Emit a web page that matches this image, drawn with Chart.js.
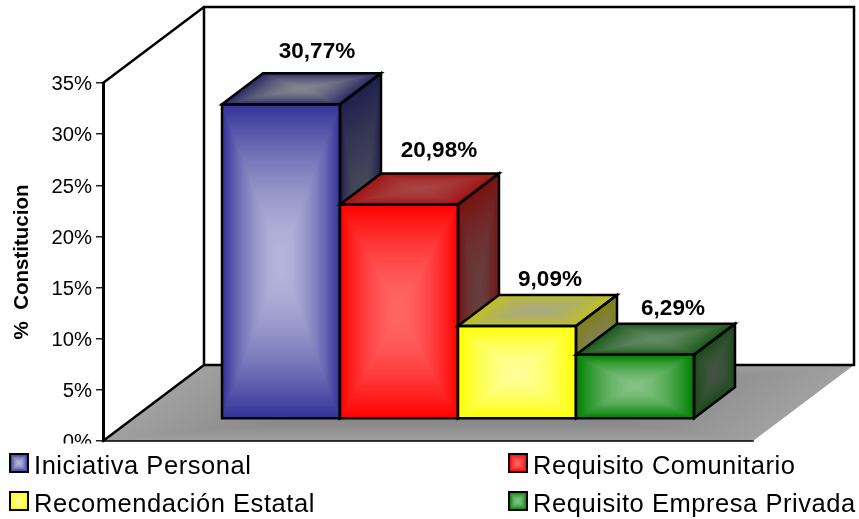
<!DOCTYPE html>
<html><head><meta charset="utf-8">
<style>html,body{margin:0;padding:0;background:#fff}#w{position:relative;width:859px;height:519px}</style>
<script src="https://cdn.jsdelivr.net/npm/chart.js@4"></script>
</head><body><div id="w"><canvas id="c" width="859" height="519"></canvas></div>
<script>
const categories = ['Constitución'];
const seriesNames = ['Iniciativa Personal','Requisito Comunitario','Recomendación Estatal','Requisito Empresa Privada'];
const iniciativa = [30.77];
const comunitario = [20.98];
const estatal = [9.09];
const empresa = [6.29];
const yTicks = [0,5,10,15,20,25,30,35];
const yTitle = '%  Constitucion';

const FONT = '"Liberation Sans", Arial, sans-serif';
const styles = [
 {front:['#333399','#b6b6da'],top:['#2b2b66','#85858f'],side:['#20204f','#50505c']},
 {front:['#ff0000','#ff6666'],top:['#a01515','#a84444'],side:['#7a1212','#664040']},
 {front:['#ffff00','#ffff99'],top:['#c0c020','#aaaa80'],side:['#808018','#808060']},
 {front:['#008000','#85c285'],top:['#1a5a1a','#648a64'],side:['#1a4a1a','#445544']}
];
const labelOffset = [[36,-15],[40,-16],[33,-9],[38,-9]];
const legendPos = [[10,454],[509,454],[10,492],[509,492]];
const PLANE = {dx:30,dy:-22}, DEPTH={dx:41,dy:-31}, WALL={dx:101,dy:-76};

function hex(c){return [1,3,5].map(i=>parseInt(c.substr(i,2),16));}
function mix(a,b,t){const x=hex(a),y=hex(b);return 'rgb('+x.map((v,i)=>Math.round(v+(y[i]-v)*t)).join(',')+')';}
function face(ctx,p,u,v,cols,N){
  N=N||70;
  const cx=p[0]+(u[0]+v[0])/2, cy=p[1]+(u[1]+v[1])/2;
  for(let i=0;i<=N;i++){
    const t=i/N, s=1-t, e=1-Math.pow(1-t,1.7);
    const a=[[p[0],p[1]],[p[0]+u[0],p[1]+u[1]],[p[0]+u[0]+v[0],p[1]+u[1]+v[1]],[p[0]+v[0],p[1]+v[1]]];
    ctx.beginPath();
    a.forEach((q,k)=>{const X=cx+(q[0]-cx)*s,Y=cy+(q[1]-cy)*s;k?ctx.lineTo(X,Y):ctx.moveTo(X,Y);});
    ctx.closePath();
    ctx.fillStyle=mix(cols[0],cols[1],e);
    ctx.fill();
  }
}
function outline(ctx,pts,w){
  ctx.beginPath();
  pts.forEach((q,k)=>k?ctx.lineTo(q[0],q[1]):ctx.moveTo(q[0],q[1]));
  ctx.closePath();ctx.lineWidth=w;ctx.strokeStyle='#000';ctx.lineJoin='miter';ctx.stroke();
}
const scene={
 id:'scene',
 beforeDraw(chart){
   const {ctx,chartArea:ca}=chart;
   const L=ca.left,R=ca.right,T=ca.top,B=ca.bottom;
   ctx.save();
   ctx.fillStyle='#fff';ctx.fillRect(0,0,chart.width,chart.height);
   face(ctx,[L,B],[R-L,0],[WALL.dx,WALL.dy],['#a0a0a0','#7f7f7f'],50);
   ctx.lineCap='square';
   ctx.strokeStyle='#000';ctx.lineWidth=2.5;
   ctx.beginPath();
   ctx.moveTo(L,T);ctx.lineTo(L+WALL.dx,T+WALL.dy);ctx.lineTo(R+WALL.dx,T+WALL.dy);ctx.lineTo(R+WALL.dx,B+WALL.dy);
   ctx.lineTo(L+WALL.dx,B+WALL.dy);ctx.lineTo(L+WALL.dx,T+WALL.dy);
   ctx.moveTo(L+WALL.dx,B+WALL.dy);ctx.lineTo(L,B);
   ctx.stroke();
   ctx.lineWidth=1.5;ctx.beginPath();ctx.moveTo(L,B);ctx.lineTo(R,B);ctx.stroke();
   ctx.restore();
 },
 beforeDatasetsDraw(chart){
   const ctx=chart.ctx;
   ctx.save();
   chart.getSortedVisibleDatasetMetas().forEach((m,i)=>{
     const b=m.data[0], st=styles[i];
     const x0=b.x-b.width/2+PLANE.dx, w=b.width, y=b.y+PLANE.dy, y1=b.base+PLANE.dy, h=y1-y;
     const d=DEPTH;
     face(ctx,[x0,y],[w,0],[0,h],st.front,90);
     face(ctx,[x0,y],[w,0],[d.dx,d.dy],st.top,40);
     face(ctx,[x0+w,y],[d.dx,d.dy],[0,h],st.side,40);
     outline(ctx,[[x0,y],[x0+w,y],[x0+w,y1],[x0,y1]],2.5);
     outline(ctx,[[x0,y],[x0+d.dx,y+d.dy],[x0+w+d.dx,y+d.dy],[x0+w,y]],2.5);
     outline(ctx,[[x0+w,y],[x0+w+d.dx,y+d.dy],[x0+w+d.dx,y1+d.dy],[x0+w,y1]],2.5);
   });
   ctx.restore();
 },
 beforeDatasetDraw(){return false;},
 afterDatasetsDraw(chart){
   const ctx=chart.ctx;
   ctx.save();
   ctx.fillStyle='#fff';ctx.fillRect(0,chart.chartArea.bottom+2.5,chart.width,chart.height);
   ctx.fillStyle='#000';ctx.textAlign='center';ctx.textBaseline='alphabetic';
   ctx.font='bold 22.5px '+FONT;
   chart.getSortedVisibleDatasetMetas().forEach((m,i)=>{
     const b=m.data[0], v=chart.data.datasets[i].data[0];
     const txt=v.toFixed(2).replace('.',',')+'%';
     ctx.fillText(txt,b.x+PLANE.dx+labelOffset[i][0],b.y+PLANE.dy+DEPTH.dy+labelOffset[i][1]);
   });
   ctx.textAlign='left';ctx.font='25.5px '+FONT;ctx.letterSpacing='0.55px';
   seriesNames.forEach((n,i)=>{
     const [x,y]=legendPos[i];
     face(ctx,[x,y],[18,0],[0,18],styles[i].front,12);
     outline(ctx,[[x,y],[x+18,y],[x+18,y+18],[x,y+18]],2);
     ctx.fillStyle='#000';
     ctx.fillText(n,x+24,y+20);
   });
   ctx.restore();
 }
};
new Chart(document.getElementById('c'),{
  type:'bar',
  data:{labels:categories,datasets:[
    {label:seriesNames[0],data:iniciativa,backgroundColor:'#333399'},
    {label:seriesNames[1],data:comunitario,backgroundColor:'#ff0000'},
    {label:seriesNames[2],data:estatal,backgroundColor:'#ffff00'},
    {label:seriesNames[3],data:empresa,backgroundColor:'#008000'}
  ]},
  options:{
    responsive:false,animation:false,
    layout:{padding:{left:0,top:83,right:106,bottom:78}},
    datasets:{bar:{categoryPercentage:472/650,barPercentage:1}},
    plugins:{legend:{display:false},title:{display:false},tooltip:{enabled:false}},
    scales:{
      x:{display:false},
      y:{min:0,max:35,
        afterBuildTicks(s){s.ticks=yTicks.map(v=>({value:v}));},
        afterFit(s){s.width=103;},
        border:{color:'#000',width:3},
        grid:{drawOnChartArea:false,drawTicks:true,tickLength:7,color:'#222',lineWidth:1.5},
        title:{display:true,text:yTitle,color:'#000',font:{family:FONT,size:20.5,weight:'bold'},padding:{top:10,bottom:0}},
        ticks:{color:'#000',font:{family:FONT,size:20.3},padding:4,autoSkip:false,labelOffset:1.7,callback:v=>v+'%'}
      }
    }
  },
  plugins:[scene]
});
</script></body></html>
